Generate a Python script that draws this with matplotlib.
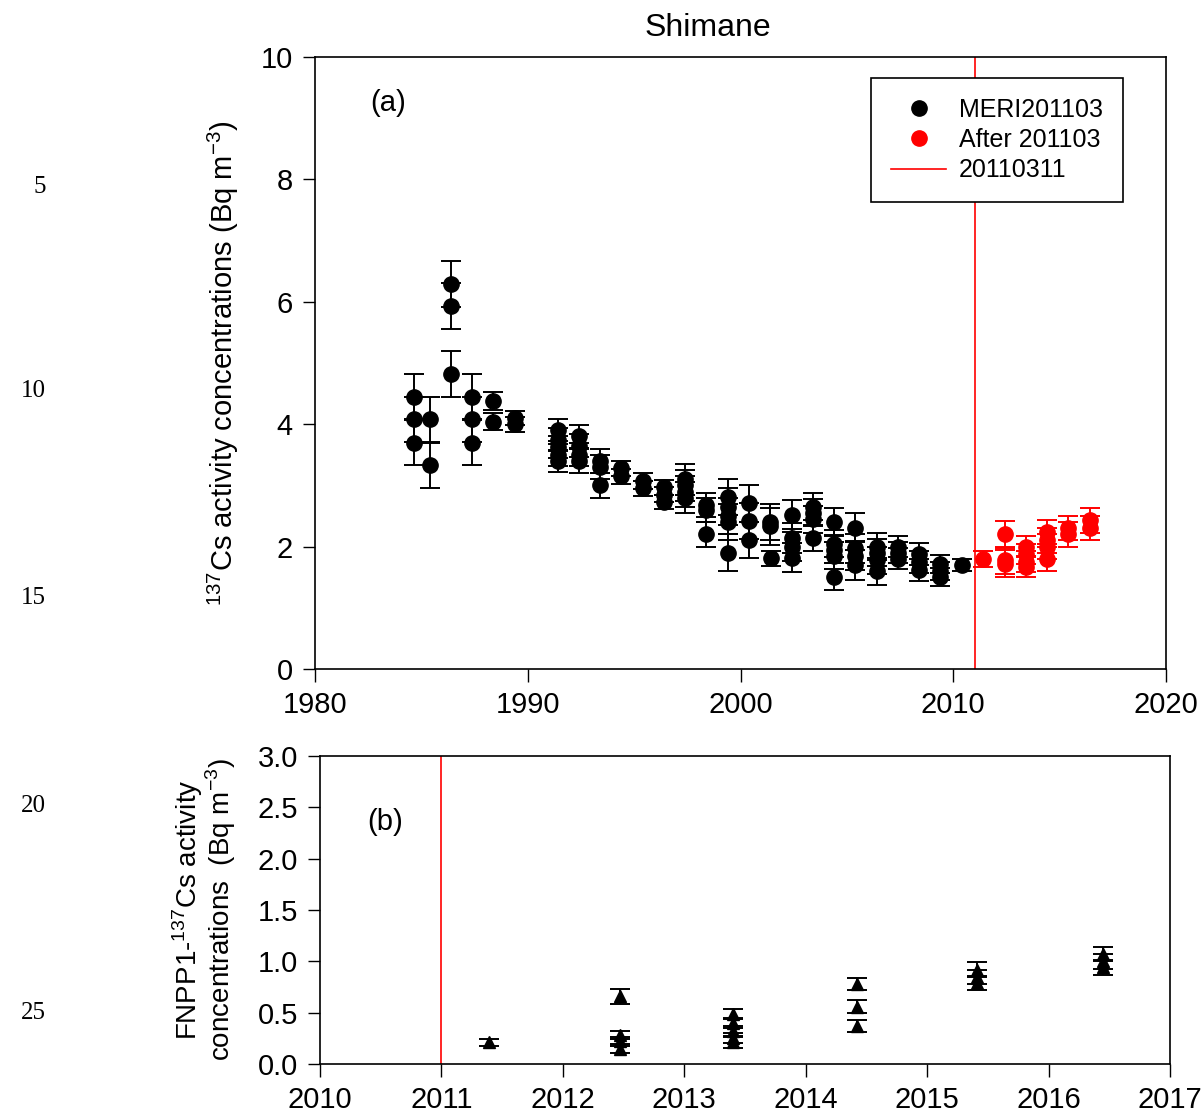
import numpy as np
import matplotlib
matplotlib.use('Agg')
from matplotlib import pyplot as plt
from matplotlib.lines import Line2D

plt.rcParams['font.family'] = ['Liberation Sans', 'DejaVu Sans']
plt.rcParams['mathtext.fontset'] = 'custom'
plt.rcParams['mathtext.rm'] = 'Liberation Sans'

# 137Cs at Shimane, MERI data before March 2011 (mean +/- error per year)
meri_years = [1984.66, 1985.42, 1986.41, 1987.37, 1988.39, 1989.38,
              1991.40, 1992.40, 1993.40, 1994.40, 1995.40, 1996.40,
              1997.40, 1998.40, 1999.40, 2000.40, 2001.40, 2001.45,
              2002.40, 2003.40, 2004.40, 2005.40, 2006.40, 2007.40,
              2008.40, 2009.40, 2010.40]
meri_values = [[4.45, 4.08, 3.70], [4.08, 3.33], [6.29, 5.93, 4.82],
               [4.45, 4.08, 3.70], [4.38, 4.04], [4.10, 4.00],
               [3.90, 3.75, 3.62, 3.50, 3.40], [3.80, 3.65, 3.50, 3.40],
               [3.40, 3.30, 3.00], [3.28, 3.15], [3.07, 2.95],
               [2.97, 2.85, 2.73], [3.10, 3.00, 2.90, 2.80],
               [2.68, 2.60, 2.20], [2.81, 2.65, 2.50, 2.40, 1.90],
               [2.71, 2.42, 2.11], [2.40, 2.33], [1.81],
               [2.52, 2.14, 2.00, 1.82], [2.65, 2.55, 2.45, 2.14],
               [2.41, 2.05, 1.95, 1.85, 1.51], [2.31, 1.97, 1.85, 1.70],
               [2.00, 1.90, 1.78, 1.60], [2.00, 1.90, 1.80],
               [1.88, 1.75, 1.62], [1.72, 1.60, 1.50], [1.70]]
meri_errors = [0.37, 0.37, 0.37, 0.37, 0.14, 0.12,
               0.18, 0.19, 0.20, 0.12, 0.13, 0.12,
               0.25, 0.20, 0.30, 0.30, 0.30, 0.12,
               0.24, 0.22, 0.22, 0.24, 0.22, 0.17,
               0.18, 0.15, 0.10]

# after the accident
after_years = [2011.40, 2012.45, 2013.40, 2014.42, 2015.41, 2016.45]
after_values = [[1.80], [2.20, 1.78, 1.72], [2.00, 1.88, 1.75, 1.67],
                [2.24, 2.10, 2.00, 1.80], [2.30, 2.20], [2.43, 2.30]]
after_errors = [0.13, 0.22, 0.17, 0.20, 0.20, 0.20]

# FNPP1-derived 137Cs
fnpp_years = [2011.39, 2012.47, 2012.47, 2013.40, 2014.42, 2015.41, 2016.45]
fnpp_values = [[0.21], [0.66], [0.28, 0.22, 0.15],
               [0.49, 0.40, 0.32, 0.25, 0.21], [0.78, 0.56, 0.37],
               [0.92, 0.85, 0.79], [1.07, 1.00, 0.94]]
fnpp_errors = [0.03, 0.075, 0.04, 0.05, 0.06, 0.07, 0.07]

accident = 2011.0

fig = plt.figure(figsize=(12.03, 11.14), dpi=100)
W, H = 1203, 1114
ax1 = fig.add_axes([315 / W, 1 - 669 / H, (1166 - 315) / W, (669 - 57) / H])
ax2 = fig.add_axes([320 / W, 1 - 1064 / H, (1170 - 320) / W, (1064 - 756) / H])


def draw_groups(ax, years, values, errors, color, marker, ms):
    for yr, vals, err in zip(years, values, errors):
        ax.errorbar([yr] * len(vals), vals, yerr=err, fmt=marker, color=color,
                    ms=ms, capsize=7, elinewidth=1.4, capthick=1.4, zorder=3)


draw_groups(ax1, meri_years, meri_values, meri_errors, 'black', 'o', 11)
draw_groups(ax1, after_years, after_values, after_errors, 'red', 'o', 11)
ax1.axvline(accident, color='red', lw=1.2, zorder=2)

draw_groups(ax2, fnpp_years, fnpp_values, fnpp_errors, 'black', '^', 9)
ax2.axvline(accident, color='red', lw=1.2, zorder=2)

ax1.set_xlim(1980, 2020)
ax1.set_ylim(0, 10)
ax1.set_xticks(range(1980, 2021, 10))
ax1.set_yticks(range(0, 11, 2))
ax1.set_ylabel('$^{137}$Cs activity concentrations (Bq m$^{-3}$)', fontsize=21,
               labelpad=14)

ax2.set_xlim(2010, 2017)
ax2.set_ylim(0, 3)
ax2.set_xticks(range(2010, 2018))
ax2.set_yticks(np.arange(0, 3.01, 0.5))
ax2.set_yticklabels(['%.1f' % v for v in np.arange(0, 3.01, 0.5)])
ax2.set_ylabel('FNPP1-$^{137}$Cs activity\nconcentrations  (Bq m$^{-3}$)',
               fontsize=20, linespacing=0.95, labelpad=14)

for ax in (ax1, ax2):
    ax.tick_params(axis='both', direction='out', length=9, width=1,
                   labelsize=21, pad=7, top=False, right=False)
    for s in ax.spines.values():
        s.set_linewidth(1.2)

ax1.text(0.065, 0.925, '(a)', transform=ax1.transAxes, fontsize=21,
         va='center', ha='left')
ax2.text(0.056, 0.786, '(b)', transform=ax2.transAxes, fontsize=21,
         va='center', ha='left')

fig.text(708 / W, 1 - 28 / H, 'Shimane', fontsize=23, ha='center', va='center')

handles = [Line2D([], [], ls='none', marker='o', color='black', ms=11),
           Line2D([], [], ls='none', marker='o', color='red', ms=11),
           Line2D([], [], color='red', lw=1.2)]
leg = ax1.legend(handles, ['MERI201103', 'After 201103', '20110311'],
                 loc='upper right', bbox_to_anchor=(0.949, 0.966),
                 fontsize=18, frameon=True, fancybox=False, framealpha=1,
                 edgecolor='black', handlelength=2.2, borderpad=0.8,
                 labelspacing=0.25, handletextpad=0.5, borderaxespad=0)
leg.get_frame().set_linewidth(1.2)

# manuscript line numbers down the left margin
for num, ypx in [(5, 187), (10, 391), (15, 598), (20, 806), (25, 1013)]:
    fig.text(46 / W, 1 - ypx / H, str(num), fontsize=18, ha='right',
             va='center', family=['Liberation Serif', 'DejaVu Serif'])

fig.savefig('out.png', dpi=100)
